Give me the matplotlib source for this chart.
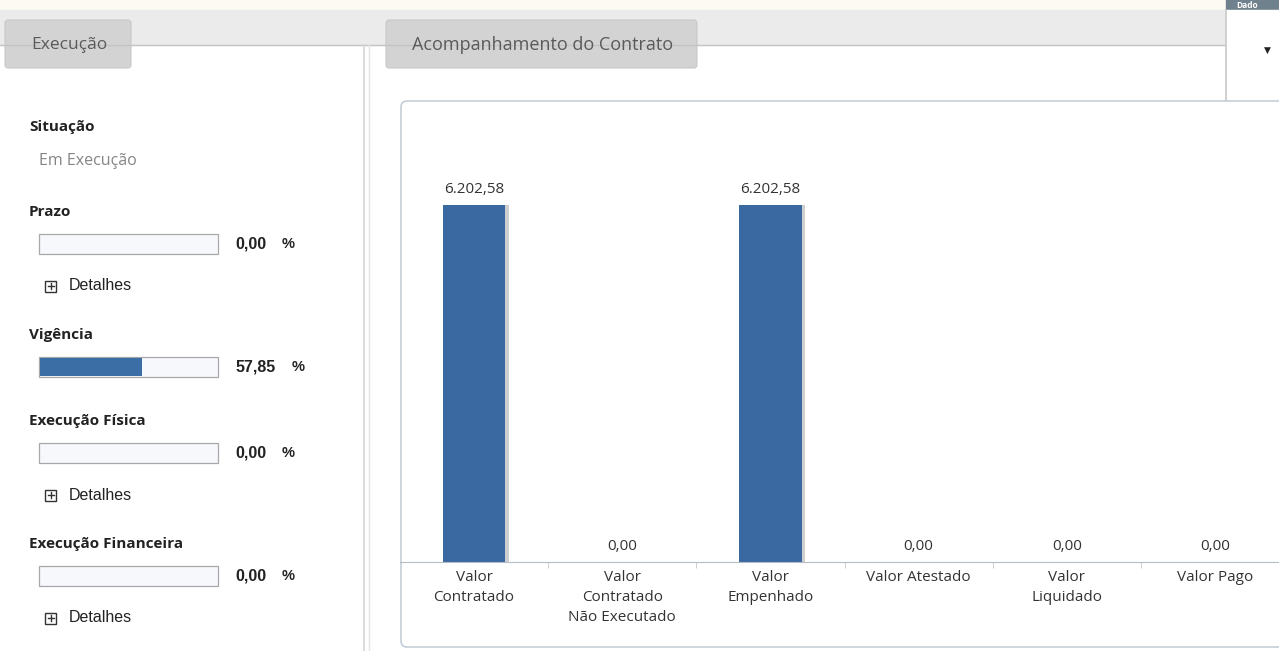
import matplotlib.pyplot as plt
import matplotlib
from matplotlib.patches import Rectangle, FancyBboxPatch
import numpy as np

matplotlib.rcParams['font.family'] = ['Open Sans', 'DejaVu Sans']

# dados do gráfico de acompanhamento
categorias = ['Valor\nContratado', 'Valor\nContratado\nNão Executado', 'Valor\nEmpenhado',
              'Valor Atestado', 'Valor\nLiquidado', 'Valor Pago']
valores = [6202.58, 0.0, 6202.58, 0.0, 0.0, 0.0]
rotulos = ['6.202,58', '0,00', '6.202,58', '0,00', '0,00', '0,00']

# indicadores do painel de execução
indicadores = ['Prazo', 'Vigência', 'Execução Física', 'Execução Financeira']
percentuais = [0.0, 57.85, 0.0, 0.0]
percent_txt = ['0,00', '57,85', '0,00', '0,00']
tem_detalhes = [True, False, True, True]

W, H = 1279, 651
fig = plt.figure(figsize=(W / 100, H / 100), dpi=100)
fig.patch.set_facecolor('white')

bg = fig.add_axes([0, 0, 1, 1])
bg.set_xlim(0, W)
bg.set_ylim(H, 0)
bg.axis('off')

# faixa superior e abas
bg.add_patch(Rectangle((0, 0), W, 10, color='#fdfaf4'))
bg.add_patch(Rectangle((0, 10), W, 35, color='#ebebeb'))
bg.plot([0, 1225], [45, 45], color='#c4c4c4', lw=1)
bg.add_patch(FancyBboxPatch((5, 20), 126, 48, boxstyle='round,pad=0,rounding_size=3',
                            fc='#d3d3d3', ec='#c8c8c8', lw=0.8))
bg.text(31, 45, 'Execução', fontsize=12.5, color='#5a5a5a', va='center')
bg.add_patch(FancyBboxPatch((386, 20), 311, 48, boxstyle='round,pad=0,rounding_size=3',
                            fc='#d3d3d3', ec='#c8c8c8', lw=0.8))
bg.text(412, 45, 'Acompanhamento do Contrato', fontsize=13, color='#5a5a5a', va='center')

# canto superior direito
bg.add_patch(Rectangle((1226, 0), 53, 10, color='#6f818c'))
bg.text(1236, 5, 'Dado', fontsize=6, color='white', va='center', fontweight='bold')
bg.add_patch(Rectangle((1226, 10), 53, 90, color='white'))
bg.plot([1226, 1226], [10, 100], color='#c8c8c8', lw=1.2)
bg.text(1267, 50, '▼', fontsize=6.5, color='#222222', ha='center', va='center', family='DejaVu Sans')

# divisória vertical
bg.plot([364, 364], [45, H], color='#d6d6d6', lw=1.2)
bg.plot([369, 369], [45, H], color='#e4e4e4', lw=1.0)

# caixa do gráfico
bg.add_patch(FancyBboxPatch((401, 101), 900, 546, boxstyle='round,pad=0,rounding_size=6',
                            fc='white', ec='#c5ced8', lw=1.2))

# painel esquerdo
bg.text(29, 127, 'Situação', fontsize=11, fontweight='bold', color='#222222', va='center')
bg.text(39, 161, 'Em Execução', fontsize=11.5, color='#858585', va='center')

ys = [212, 335, 421, 544]
for nome, pct, txt, det, y in zip(indicadores, percentuais, percent_txt, tem_detalhes, ys):
    bg.text(29, y, nome, fontsize=11, fontweight='bold', color='#222222', va='center')
    by = y + 22
    bg.add_patch(Rectangle((39, by), 179, 20, fc='#f6f8fc', ec='#a8a8a8', lw=0.9))
    if pct > 0:
        bg.add_patch(Rectangle((40, by + 1), 177 * pct / 100, 18, fc='#3a6ea5', ec='none'))
    t = bg.text(235, by + 10, txt, fontsize=11.5, fontweight='bold', color='#222222',
                va='center', family='Liberation Sans')
    bg.annotate('%', xy=(1, 0.5), xycoords=t, xytext=(16, 0), textcoords='offset pixels',
                fontsize=10.5, fontweight='bold', color='#222222', va='center', ha='left',
                family='Liberation Sans')
    if det:
        dy = by + 52
        bg.add_patch(Rectangle((45, dy - 5.5), 11, 11, fc='white', ec='#333333', lw=1.0))
        bg.plot([47.5, 53.5], [dy, dy], color='#333333', lw=1.0)
        bg.plot([50.5, 50.5], [dy - 3, dy + 3], color='#333333', lw=1.0)
        bg.text(69, dy, 'Detalhes', fontsize=11.5, color='#222222', va='center',
                family='Liberation Sans')

# gráfico de barras
left, right, top, base = 400, 1289, 105, 562
ax = fig.add_axes([left / W, 1 - base / H, (right - left) / W, (base - top) / H])
ax.patch.set_alpha(0)
x = np.arange(len(categorias))
larg = 0.42
ax.bar(x + 0.025, valores, larg, color='#cfcfcf', zorder=1)
ax.bar(x, valores, larg, color='#3a68a0', zorder=2)
ax.set_xlim(-0.5, len(categorias) - 0.5)
ax.set_ylim(0, max(valores) * (base - top) / 357)
for xi, v, r in zip(x, valores, rotulos):
    ax.annotate(r, (xi, v), xytext=(0, 6), textcoords='offset points', ha='center',
                va='bottom', fontsize=11, color='#333333')

ax.set_xticks(x)
ax.set_xticklabels(categorias, fontsize=11, color='#333333', linespacing=1.45, va='top')
ax.tick_params(axis='x', which='major', length=0, pad=6)
ax.set_xticks(np.arange(len(categorias)) + 0.5, minor=True)
ax.tick_params(axis='x', which='minor', length=4, color='#c8c8c8')
ax.set_yticks([])
for s in ['top', 'right', 'left']:
    ax.spines[s].set_visible(False)
ax.spines['bottom'].set_color('#b4bcc6')

fig.savefig('out.png', dpi=100)
